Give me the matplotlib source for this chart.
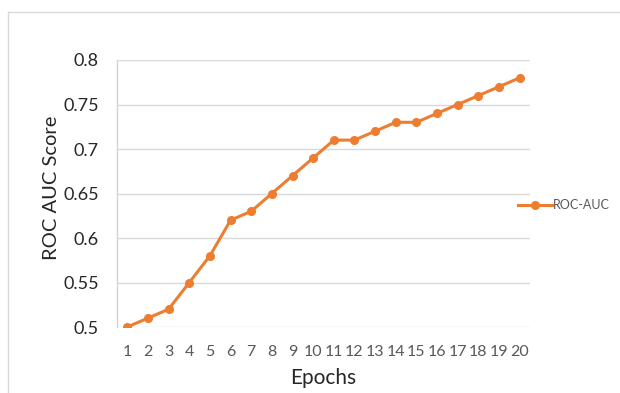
import matplotlib
matplotlib.use("Agg")
import matplotlib.pyplot as plt
from matplotlib.lines import Line2D

epochs = list(range(1, 21))
roc_auc = [0.50, 0.51, 0.52, 0.55, 0.58, 0.62, 0.63, 0.65, 0.67, 0.69,
           0.71, 0.71, 0.72, 0.73, 0.73, 0.74, 0.75, 0.76, 0.77, 0.78]
y_ticks = [0.5, 0.55, 0.6, 0.65, 0.7, 0.75, 0.8]
y_tick_labels = ["0.5", "0.55", "0.6", "0.65", "0.7", "0.75", "0.8"]

plt.rcParams["font.family"] = ["Lato", "DejaVu Sans"]

W, H = 620, 393
fig = plt.figure(figsize=(W / 100, H / 100), dpi=100)
fig.patch.set_facecolor("white")

# chart frame
frame_col = "#D9D9D9"
fig.add_artist(Line2D([8 / W, 8 / W], [0, 1 - 12 / H], transform=fig.transFigure,
                      color=frame_col, lw=1))
fig.add_artist(Line2D([8 / W, 1], [1 - 12 / H, 1 - 12 / H], transform=fig.transFigure,
                      color=frame_col, lw=1))

left, right, top, bottom = 117, 530, 60, 327
ax = fig.add_axes([left / W, 1 - bottom / H, (right - left) / W, (bottom - top) / H])

orange = "#ED7D31"
ax.plot(epochs, roc_auc, color=orange, lw=2.2, marker="o", markersize=5.5,
        label="ROC-AUC")

ax.set_xlim(0.5, 20.5)
ax.set_ylim(0.5, 0.8)
ax.set_xticks(epochs)
ax.set_xticklabels([str(e) for e in epochs])
ax.set_yticks(y_ticks)
ax.set_yticklabels(y_tick_labels)

ax.grid(axis="y", color="#D9D9D9", lw=1)
ax.set_axisbelow(True)
for s in ["top", "right", "bottom"]:
    ax.spines[s].set_visible(False)
ax.spines["left"].set_color("#C9D6EA")
ax.spines["left"].set_linewidth(1)

ax.tick_params(axis="both", length=0)
ax.tick_params(axis="x", labelsize=11.5, labelcolor="#595959", pad=13)
ax.tick_params(axis="y", labelsize=13, labelcolor="#262626", pad=13)

ax.set_xlabel("Epochs", fontsize=15, color="#262626")
ax.set_ylabel("ROC AUC Score", fontsize=14.5, color="#262626")
ax.xaxis.set_label_coords(0.5, -0.152)
ax.yaxis.set_label_coords(-0.137, 0.52)

ax.legend(loc="center left", bbox_to_anchor=((518 - left) / (right - left), (bottom - 205) / (bottom - top)),
          frameon=False, fontsize=9, handlelength=2.72, handletextpad=0.05,
          borderaxespad=0, borderpad=0, labelcolor="#595959")

fig.savefig("out.png", dpi=100, facecolor="white")
